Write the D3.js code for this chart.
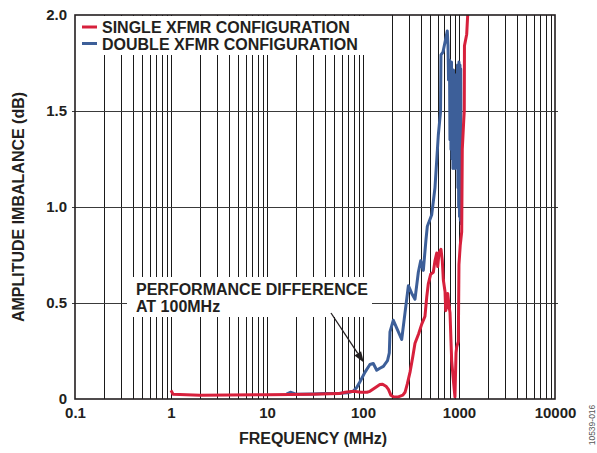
<!DOCTYPE html>
<html>
<head>
<meta charset="utf-8">
<script src="https://cdn.jsdelivr.net/npm/d3@7"></script>
<style>
  html, body { margin: 0; padding: 0; background: #fff; }
  svg { display: block; font-family: "Liberation Sans", Arial, Helvetica, sans-serif; }
</style>
</head>
<body>
<svg id="chart" width="597" height="453"></svg>
<script>
// Amplitude imbalance vs. frequency, single vs. double transformer front end.

// Frequency (MHz) / amplitude imbalance (dB) for the single-transformer configuration
const singleFreq = [1, 1.05, 2, 10, 30, 57, 65, 80, 95, 110, 118, 135, 150, 160, 175, 184, 195, 207, 230, 260, 274, 290, 309, 330, 348, 380, 409, 442, 461, 479, 507, 540, 562, 586, 600, 619, 649, 670, 687, 715, 727, 745, 763, 790, 806, 839, 880, 908, 931, 946, 984, 999, 1030, 1067, 1082, 1120, 1135, 1140, 1203, 1232, 1260];
const singleDb   = [0.045, 0.025, 0.02, 0.022, 0.025, 0.028, 0.035, 0.04, 0.035, 0.035, 0.04, 0.06, 0.075, 0.077, 0.065, 0.05, 0.02, 0.012, 0.01, 0.02, 0.035, 0.08, 0.14, 0.22, 0.29, 0.34, 0.39, 0.43, 0.53, 0.6, 0.65, 0.66, 0.72, 0.76, 0.69, 0.76, 0.78, 0.72, 0.62, 0.56, 0.46, 0.48, 0.55, 0.48, 0.45, 0.2, 0.08, 0.01, 0.24, 0.27, 0.3, 0.7, 0.8, 0.87, 1.3, 1.45, 1.5, 1.84, 1.9, 2.0, 2.1];

// Same measurement for the double-transformer configuration
const doubleFreq = [16, 17.5, 20, 30, 40, 57, 70, 79, 86, 93, 105, 118, 128, 139, 150, 163, 180, 188, 191, 207, 224, 253, 274, 297, 322, 348, 377, 399, 425, 453, 468, 520, 562, 609, 642, 649, 681, 720, 755, 768, 778, 796, 805, 815, 825, 835, 845, 855, 865, 876, 887, 898, 909, 920, 931, 942, 953, 965, 975, 984, 992, 1000, 1012, 1024, 1033, 1042, 1057];
const doubleDb   = [0.025, 0.035, 0.025, 0.026, 0.028, 0.03, 0.033, 0.04, 0.06, 0.09, 0.14, 0.18, 0.185, 0.15, 0.16, 0.17, 0.2, 0.24, 0.35, 0.41, 0.37, 0.31, 0.45, 0.59, 0.55, 0.52, 0.66, 0.72, 0.67, 0.83, 0.9, 0.96, 1.1, 1.375, 1.495, 1.792, 1.807, 1.865, 1.917, 1.844, 1.661, 1.766, 1.35, 1.72, 1.3, 1.755, 1.25, 1.7, 1.2, 1.714, 1.24, 1.69, 1.2, 1.688, 1.3, 1.6, 1.35, 1.74, 1.1, 1.7, 1.0, 1.755, 0.95, 1.74, 0.93, 1.72, 0.906];

const xTickValues = [0.1, 1, 10, 100, 1000, 10000];
const xTickLabels = ["0.1", "1", "10", "100", "1000", "10000"];
const yTickValues = [0, 0.5, 1.0, 1.5, 2.0];
const yTickLabels = ["0", "0.5", "1.0", "1.5", "2.0"];
const seriesNames = ["SINGLE XFMR CONFIGURATION", "DOUBLE XFMR CONFIGURATION"];
const seriesColors = ["#d7203c", "#3d5f99"];
const annotationLines = ["PERFORMANCE DIFFERENCE", "AT 100MHz"];
const annotationTarget = { freq: 102, db: 0.19 };

const svg = d3.select("#chart");
const ink = "#231f20";
const plot = { left: 75, right: 555, top: 15, bottom: 399 };

const x = d3.scaleLog().domain([0.1, 10000]).range([plot.left, plot.right]);
const y = d3.scaleLinear().domain([0, 2]).range([plot.bottom, plot.top]);

svg.append("defs").append("clipPath").attr("id", "plotClip")
  .append("rect")
  .attr("x", plot.left).attr("y", plot.top)
  .attr("width", plot.right - plot.left).attr("height", plot.bottom - plot.top);

// Log-spaced vertical grid (1..9 per decade)
const vGrid = [];
for (let d = 0.1; d < 10000; d *= 10) {
  for (let k = 1; k <= 9; k++) vGrid.push(+(k * d).toPrecision(3));
}
const grid = svg.append("g");
grid.selectAll("line.v").data(vGrid.filter(v => v > 0.1)).join("line")
  .attr("class", "v")
  .attr("x1", d => Math.round(x(d)) + 0.5).attr("x2", d => Math.round(x(d)) + 0.5)
  .attr("y1", plot.top).attr("y2", plot.bottom)
  .attr("stroke", "#1a1a1a").attr("stroke-width", 1);
grid.selectAll("line.h").data(yTickValues.filter(v => v > 0 && v < 2)).join("line")
  .attr("class", "h")
  .attr("x1", plot.left - 3).attr("x2", plot.right + 3)
  .attr("y1", d => Math.round(y(d)) + 0.5).attr("y2", d => Math.round(y(d)) + 0.5)
  .attr("stroke", "#3a3a3a").attr("stroke-width", 1.2);

// White panels behind the legend and the callout text
svg.append("rect").attr("x", plot.left + 1).attr("y", plot.top + 1)
  .attr("width", 291).attr("height", 39).attr("fill", "#fff");
svg.append("rect").attr("x", 127).attr("y", 277)
  .attr("width", 245).attr("height", 40).attr("fill", "#fff");

// Curves
const line = d3.line().x(d => x(d[0])).y(d => y(d[1])).curve(d3.curveLinear);
const curves = svg.append("g").attr("clip-path", "url(#plotClip)");
const doublePts = doubleFreq.map((f, i) => [f, doubleDb[i]]);
const singlePts = singleFreq.map((f, i) => [f, singleDb[i]]);
curves.append("path").datum(doublePts).attr("d", line)
  .attr("fill", "none").attr("stroke", seriesColors[1]).attr("stroke-width", 3)
  .attr("stroke-linejoin", "round");
curves.append("path").datum(singlePts).attr("d", line)
  .attr("fill", "none").attr("stroke", seriesColors[0]).attr("stroke-width", 3)
  .attr("stroke-linejoin", "round");

// Frame
svg.append("rect")
  .attr("x", plot.left).attr("y", plot.top)
  .attr("width", plot.right - plot.left).attr("height", plot.bottom - plot.top)
  .attr("fill", "none").attr("stroke", ink).attr("stroke-width", 1.6);

// Axes
const xAxis = d3.axisBottom(x).tickValues(xTickValues)
  .tickFormat((d, i) => xTickLabels[i]).tickSize(0).tickPadding(8);
const gx = svg.append("g").attr("transform", `translate(0,${plot.bottom})`).call(xAxis);
gx.select(".domain").remove();
gx.selectAll("text").attr("font-size", 15).attr("font-weight", "bold")
  .attr("fill", ink).attr("font-family", "Liberation Sans, Arial, sans-serif");

const yAxis = d3.axisLeft(y).tickValues(yTickValues)
  .tickFormat((d, i) => yTickLabels[i]).tickSize(0).tickPadding(8);
const gy = svg.append("g").attr("transform", `translate(${plot.left},0)`).call(yAxis);
gy.select(".domain").remove();
gy.selectAll("text").attr("font-size", 15).attr("font-weight", "bold")
  .attr("fill", ink).attr("font-family", "Liberation Sans, Arial, sans-serif");

// Axis titles
svg.append("text").attr("x", (plot.left + plot.right) / 2 - 2).attr("y", 444)
  .attr("text-anchor", "middle").attr("font-size", 16).attr("font-weight", "bold")
  .attr("fill", ink).text("FREQUENCY (MHz)");
svg.append("text")
  .attr("transform", `translate(24,${(plot.top + plot.bottom) / 2}) rotate(-90)`)
  .attr("text-anchor", "middle").attr("font-size", 16).attr("font-weight", "bold")
  .attr("fill", ink).text("AMPLITUDE IMBALANCE (dB)");

// Legend
const legend = svg.append("g");
seriesNames.forEach((name, i) => {
  const ly = 27 + i * 16.5;
  legend.append("line").attr("x1", 82).attr("x2", 97).attr("y1", ly).attr("y2", ly)
    .attr("stroke", seriesColors[i]).attr("stroke-width", 3);
  legend.append("text").attr("x", 102).attr("y", ly + 6)
    .attr("font-size", 16).attr("font-weight", "bold").attr("fill", ink).text(name);
});

// Callout
annotationLines.forEach((t, i) => {
  svg.append("text").attr("x", 136).attr("y", 295 + i * 17)
    .attr("font-size", 16).attr("font-weight", "bold").attr("fill", ink).text(t);
});
const tx = x(annotationTarget.freq), ty = y(annotationTarget.db);
const sx = 331, sy = 313;
const ang = Math.atan2(ty - sy, tx - sx);
const headLen = 11, headW = 4;
const bx = tx - headLen * Math.cos(ang), by = ty - headLen * Math.sin(ang);
svg.append("line").attr("x1", sx).attr("y1", sy).attr("x2", bx).attr("y2", by)
  .attr("stroke", ink).attr("stroke-width", 1.3);
svg.append("path")
  .attr("d", `M${tx},${ty} L${bx + headW * Math.sin(ang)},${by - headW * Math.cos(ang)} L${bx - headW * Math.sin(ang)},${by + headW * Math.cos(ang)} Z`)
  .attr("fill", ink);

// Figure number
svg.append("text")
  .attr("transform", "translate(595,425) rotate(-90)")
  .attr("text-anchor", "middle").attr("font-size", 8.5).attr("fill", "#555")
  .text("10539-016");
</script>
</body>
</html>
